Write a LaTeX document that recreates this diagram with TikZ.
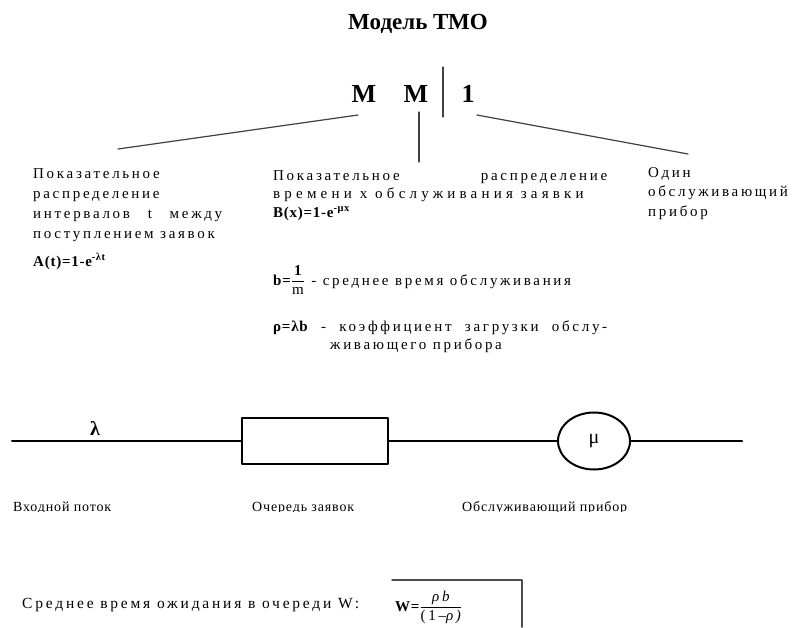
\documentclass[tikz,border=0pt]{standalone}
\usepackage{fontspec}
\setmainfont{Liberation Serif}
\newfontfamily\txtfont[LetterSpace=18]{Liberation Serif}
\newfontfamily\widefont[LetterSpace=28]{Liberation Serif}
\newfontfamily\frmfont[LetterSpace=5]{Liberation Serif}
\newfontfamily\lblfont[LetterSpace=6]{Liberation Serif}
\usetikzlibrary{shapes.geometric}
\begin{document}
\begin{tikzpicture}[x=1pt,y=-1pt,line join=round,line cap=round,
    txt/.style={inner sep=0pt,anchor=base west,align=left,font=\txtfont\fontsize{15}{20}\selectfont},
    frm/.style={inner sep=0pt,anchor=base west,font=\frmfont\bfseries\fontsize{15}{19}\selectfont},
    lbl/.style={inner sep=0pt,anchor=base west,font=\lblfont\fontsize{14}{16}\selectfont},
    big/.style={inner sep=0pt,font=\bfseries\fontsize{26}{30}\selectfont},
    stick/.style={line width=1.2pt,black!75},
    wire/.style={line width=2pt}]
  \useasboundingbox (0,0) rectangle (800,627);
  % Заголовок и обозначение Кендалла
  \node[font=\bfseries\fontsize{23}{26}\selectfont] (title) at (418,24) {Модель ТМО};
  \node[big] (m1) at (364,94) {M};
  \node[big] (m2) at (416,94) {M};
  \node[big] (one) at (468,94) {1};
  \draw[stick] (443,67) -- (443,117);
  \coordinate (m1foot) at (358,115);
  \coordinate (m2foot) at (419,112);
  \coordinate (onefoot) at (477,115);
  \coordinate (leftend) at (118,149);
  \coordinate (midend) at (419,162);
  \coordinate (rightend) at (688,154);
  \draw[stick] (m1foot) -- (leftend);
  \draw[stick] (m2foot) -- (midend);
  \draw[stick] (onefoot) -- (rightend);
  % Пояснения (узлы ставятся по базовой линии последней строки)
  \node[txt] (expA) at (33,238) {Показательное\\распределение\\\makebox[189pt][s]{интервалов t между}\\поступлением заявок};
  \node[frm] (formA) at (33,266) {A(t)=1-e\textsuperscript{-λt}};
  \node[txt,font=\txtfont\fontsize{15}{18}\selectfont] (expB) at (273,198) {\makebox[334pt][s]{Показательное распределение}\\{\widefont времени x обслуживания заявки}};
  \node[frm] (formB) at (273,217) {B(x)=1-e\textsuperscript{-μx}};
  \node[txt] (meanB) at (273,285) {{\frmfont\bfseries b=}$\displaystyle\frac{\mbox{\frmfont\bfseries 1}}{\mbox{m}}$ - среднее время обслуживания};
  \node[txt,font=\txtfont\fontsize{15}{18}\selectfont] (rhoB) at (273,349) {\makebox[334pt][s]{{\frmfont\bfseries ρ=λb} - коэффициент загрузки обслу-}\\\hspace*{57pt}живающего прибора};
  \node[txt,font=\txtfont\fontsize{15}{19.5}\selectfont] (oneB) at (648,216) {Один\\обслуживающий\\прибор};
  % Схема СМО
  \coordinate (src) at (12,441);
  \node[draw,wire,minimum width=146pt,minimum height=46pt,inner sep=0pt] (queue) at (315,441) {};
  \node[draw,wire,ellipse,minimum width=72pt,minimum height=57pt,inner sep=0pt,font=\fontsize{20}{20}\selectfont] (srv) at (594,441) {μ};
  \coordinate (sink) at (742,441);
  \draw[wire] (src) -- (queue) -- (srv) -- (sink);
  \node[font=\bfseries\fontsize{20}{20}\selectfont] (lam) at (95,428) {λ};
  \begin{scope}
    \clip (0,490) rectangle (800,511);
    \node[lbl] (inLbl) at (13,511) {Входной поток};
    \node[lbl] (queueLbl) at (252,511) {Очередь заявок};
    \node[lbl] (srvLbl) at (462,511) {Обслуживающий прибор};
  \end{scope}
  % Время ожидания
  \node[txt,font=\txtfont\fontsize{15.5}{20}\selectfont] (waitTxt) at (22,608) {Среднее время ожидания в очереди W:};
  \node[txt] (waitW) at (395,611) {{\frmfont\bfseries W=}$\displaystyle\frac{\mbox{\itshape ρb}}{\mbox{(1–\itshape ρ)}}$};
  \draw[line width=1.5pt,black!70] (392,580) -- (522,580) -- (522,627);
\end{tikzpicture}
\end{document}
